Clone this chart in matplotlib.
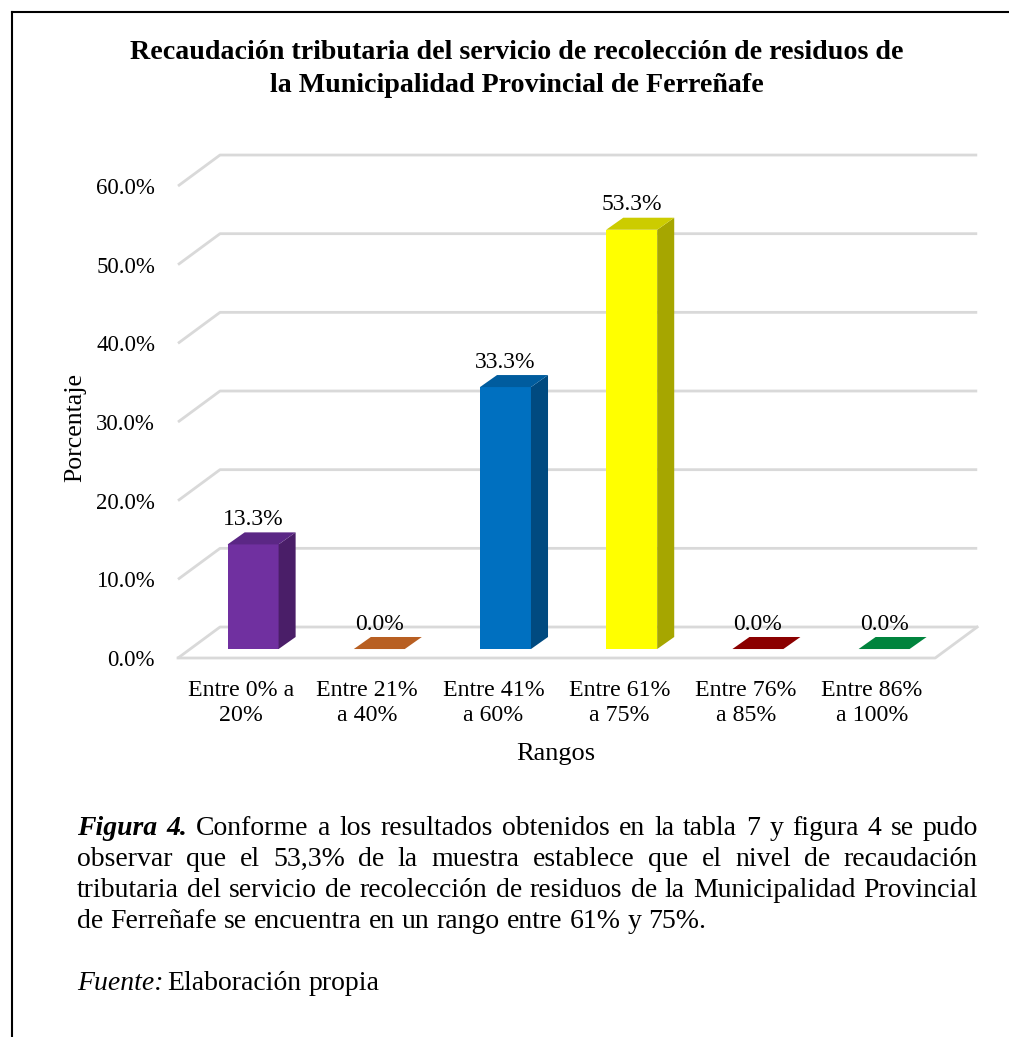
import matplotlib
matplotlib.use("Agg")
import matplotlib.pyplot as plt
from matplotlib.patches import Polygon
from matplotlib.lines import Line2D

# ---- data ----
categories = ["Entre 0% a\n20%", "Entre 21%\na 40%", "Entre 41%\na 60%",
              "Entre 61%\na 75%", "Entre 76%\na 85%", "Entre 86%\na 100%"]
values = [13.3, 0.0, 33.3, 53.3, 0.0, 0.0]
yticks = [0, 10, 20, 30, 40, 50, 60]
# (front, top, side) per bar
colors = [("#7030A0", "#5B2785", "#4A1E68"),
          ("#C55A11", "#B85F22", "#8F4A1A"),
          ("#0070C0", "#005C9E", "#004A80"),
          ("#FFFF00", "#CCCC00", "#A6A600"),
          ("#8B0000", "#8B0000", "#5E0000"),
          ("#00843D", "#00843D", "#005C2A")]

W, H = 1009, 1037
plt.rcParams["font.family"] = "Liberation Serif"

fig = plt.figure(figsize=(W / 100, H / 100), dpi=100)

def fx(px): return px / W
def fy(py): return 1 - py / H

# axes: x=-0.5 at px 178, y=0 at px 658
ax = fig.add_axes([fx(178), fy(658), (980 - 178) / W, (658 - 140) / H])
ax.set_xlim(-0.5, 5.855)
ax.set_ylim(0, 65.85)
for s in ax.spines.values():
    s.set_visible(False)

# 3D offsets (data units)
DX, DY = 0.333, 3.94     # full floor depth
FDX, FDY = 0.095, 1.14   # bar front plane
BDX, BDY = 0.135, 1.53   # bar depth
BW = 0.404
n = len(categories)
grid_c = "#D9D9D9"

for g in yticks:
    ax.plot([-0.5, -0.5 + DX, n - 0.5 + DX], [g, g + DY, g + DY], color=grid_c, lw=2,
            clip_on=False, zorder=1, solid_capstyle="butt")
ax.plot([-0.5, n - 0.5, n - 0.5 + DX], [0, 0, DY], color=grid_c, lw=2, clip_on=False, zorder=1)

for i, (v, (cf, ct, cs)) in enumerate(zip(values, colors)):
    x0 = i - BW / 2 + FDX
    b = FDY
    top = [(x0, b + v), (x0 + BW, b + v), (x0 + BW + BDX, b + v + BDY), (x0 + BDX, b + v + BDY)]
    if v > 0:
        ax.add_patch(Polygon([(x0, b), (x0 + BW, b), (x0 + BW, b + v), (x0, b + v)],
                             closed=True, fc=cf, ec="none", zorder=3))
        ax.add_patch(Polygon([(x0 + BW, b), (x0 + BW + BDX, b + BDY), (x0 + BW + BDX, b + v + BDY),
                              (x0 + BW, b + v)], closed=True, fc=cs, ec="none", zorder=3))
    ax.add_patch(Polygon(top, closed=True, fc=ct, ec="none", zorder=3))
    ax.text(i + FDX, v + b + BDY + 0.3, f"{v:.1f}%", ha="center", va="bottom",
            fontsize=17, zorder=4)

ax.set_yticks(yticks)
ax.set_yticklabels([f"{t:.1f}%" for t in yticks], fontsize=16.5)
ax.set_xticks(range(n))
ax.set_xticklabels(categories, fontsize=17.2, linespacing=1.3)
ax.tick_params(axis="y", length=0, pad=16.5)
ax.tick_params(axis="x", length=0, pad=15.5)

fig.text(fx(75), fy(427), "Porcentaje", rotation=90, ha="center", va="center", fontsize=18.5)
fig.text(fx(556), fy(754), "Rangos", ha="center", va="center", fontsize=19)

# title
fig.text(fx(517), fy(59), "Recaudación tributaria del servicio de recolección de residuos de",
         ha="center", va="baseline", fontsize=20.2, fontweight="bold")
fig.text(fx(517), fy(92), "la Municipalidad Provincial de Ferreñafe",
         ha="center", va="baseline", fontsize=20.2, fontweight="bold")

# frame
fig.add_artist(Line2D([fx(12), fx(12)], [fy(12), 0], color="black", lw=1.5))
fig.add_artist(Line2D([fx(12), 1], [fy(12), fy(12)], color="black", lw=1.5))

# caption (justified)
renderer = fig.canvas.get_renderer()
CAP = 20
X0, X1 = 77, 978

def text_width(s, **kw):
    t = fig.text(0, 0, s, fontsize=CAP, **kw)
    w = t.get_window_extent(renderer).width
    t.remove()
    return w

SP = text_width("a a") - text_width("aa")

def words_line(words, py, justify=True):
    arts = []
    for txt, bold in words:
        t = fig.text(0, fy(py), txt, va="baseline", fontsize=CAP,
                     fontweight="bold" if bold else "normal",
                     fontstyle="italic" if bold else "normal")
        arts.append(t)
    widths = [a.get_window_extent(renderer).width for a in arts]
    gap = (X1 - X0 - sum(widths)) / (len(arts) - 1) if justify else SP
    x = X0
    for a, w in zip(arts, widths):
        a.set_x(fx(x))
        x += w + gap

lines = [
    "Figura 4. Conforme a los resultados obtenidos en la tabla 7 y figura 4 se pudo",
    "observar que el 53,3% de la muestra establece que el nivel de recaudación",
    "tributaria del servicio de recolección de residuos de la Municipalidad Provincial",
    "de Ferreñafe se encuentra en un rango entre 61% y 75%.",
]
baselines = [835, 866, 897, 928]
for k, (ln, py) in enumerate(zip(lines, baselines)):
    ws = [(w, k == 0 and j < 2) for j, w in enumerate(ln.split(" "))]
    words_line(ws, py, justify=(k < 3))

words_line([("Fuente:", False), ("Elaboración", False), ("propia", False)], 990, justify=False)
fig.texts[-3].set_fontstyle("italic")

fig.savefig("out.png", dpi=100)
